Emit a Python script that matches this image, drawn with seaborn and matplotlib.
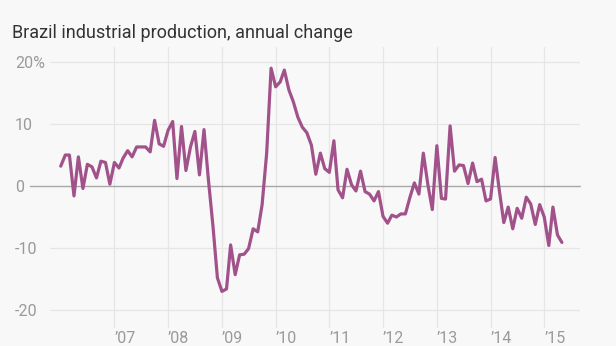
import matplotlib
matplotlib.use("Agg")
import matplotlib.pyplot as plt
import matplotlib.dates as mdates
import seaborn as sns
import pandas as pd
import numpy as np

# Monthly data, Jan 2006 - May 2015 (annual % change)
v2006 = [3.2, 5.0, 5.0, -1.6, 4.7, -0.4, 3.5, 3.1, 1.3, 4.0, 3.8, 0.3]
v2007 = [3.8, 2.9, 4.5, 5.7, 4.7, 6.3, 6.3, 6.3, 5.5, 10.6, 6.8, 6.4]
v2008 = [9.0, 10.4, 1.2, 9.6, 2.5, 6.3, 8.8, 1.8, 9.1, 1.0, -6.5, -14.8]
v2009 = [-17.0, -16.6, -9.5, -14.3, -11.1, -11.0, -10.1, -6.9, -7.4, -3.0, 5.3, 19.0]
v2010 = [16.0, 16.8, 18.7, 15.5, 13.6, 11.1, 9.5, 8.6, 6.6, 1.9, 5.3, 2.8]
v2011 = [2.2, 7.3, -0.6, -1.9, 2.7, 0.2, -0.8, 2.4, -0.9, -1.3, -2.4, -0.9]
v2012 = [-4.9, -6.0, -4.7, -5.0, -4.5, -4.5, -1.9, 0.5, -1.3, 5.3, 0.2, -3.8]
v2013 = [6.5, -2.0, -2.1, 9.7, 2.4, 3.4, 3.3, 0.4, 3.7, 0.7, 1.1, -2.4]
v2014 = [-2.1, 4.6, -0.6, -5.9, -3.4, -6.9, -3.6, -5.2, -1.8, -2.9, -6.2, -3.0]
v2015 = [-5.0, -9.6, -3.4, -7.9, -9.1]

values = v2006 + v2007 + v2008 + v2009 + v2010 + v2011 + v2012 + v2013 + v2014 + v2015
dates = pd.date_range("2006-01-01", periods=len(values), freq="MS")

ytick_values = [-20, -10, 0, 10, 20]
ytick_labels = ["-20", "-10", "0", "10", "20%"]
xtick_years = [2007, 2008, 2009, 2010, 2011, 2012, 2013, 2014, 2015]
xtick_labels = ["\u201907", "\u201908", "\u201909", "\u201910", "\u201911",
                "\u201912", "\u201913", "\u201914", "\u201915"]

title = "Brazil industrial production, annual change"

df = pd.DataFrame({"date": dates, "change": values})

sns.set_theme(style="white")
plt.rcParams["font.family"] = ["Roboto", "DejaVu Sans"]

BG = "#f8f8f8"
fig = plt.figure(figsize=(6.16, 3.46), dpi=100, facecolor=BG)
ax = fig.add_axes([50 / 616, 1 - 328 / 346, 530 / 616, 281 / 346])
ax.set_facecolor(BG)

sns.lineplot(data=df, x="date", y="change", ax=ax, color="#a2528a",
             linewidth=2.3, zorder=3)

def yrfrac(y):
    year = int(np.floor(y))
    frac = y - year
    start = pd.Timestamp(f"{year}-01-01")
    end = pd.Timestamp(f"{year + 1}-01-01")
    return start + (end - start) * frac

ax.set_xlim(mdates.date2num(yrfrac(2005.80)), mdates.date2num(yrfrac(2015.666)))
ax.set_ylim(-22.9, 22.42)

for s in ax.spines.values():
    s.set_visible(False)

for y in ytick_values:
    if y != 0:
        ax.axhline(y, color="#e6e6e6", lw=0.9, zorder=1)
ax.axhline(0, color="#a8a8a8", lw=1.0, zorder=2, xmin=-20 / 530, clip_on=False)
xt = [pd.Timestamp(f"{y}-01-01") for y in xtick_years]
for d in xt:
    ax.axvline(d, color="#e6e6e6", lw=0.9, zorder=1)

ax.set_yticks(ytick_values)
ax.set_yticklabels(ytick_labels)
ax.set_xticks(xt)
ax.set_xticklabels(xtick_labels)
ax.tick_params(axis="both", length=0, colors="#9a9a9a", labelsize=11.5)
ax.tick_params(axis="y", pad=35 * 0.72)
for lab in ax.get_yticklabels():
    lab.set_horizontalalignment("left")
ax.tick_params(axis="x", pad=2.5)
for lab in ax.get_xticklabels():
    lab.set_horizontalalignment("left")
ax.set_xlabel("")
ax.set_ylabel("")
ax.grid(False)

fig.text(12 / 616, 1 - 33 / 346, title, fontsize=13, color="#333333",
         ha="left", va="center")

fig.savefig("out.png", dpi=100, facecolor=BG)
